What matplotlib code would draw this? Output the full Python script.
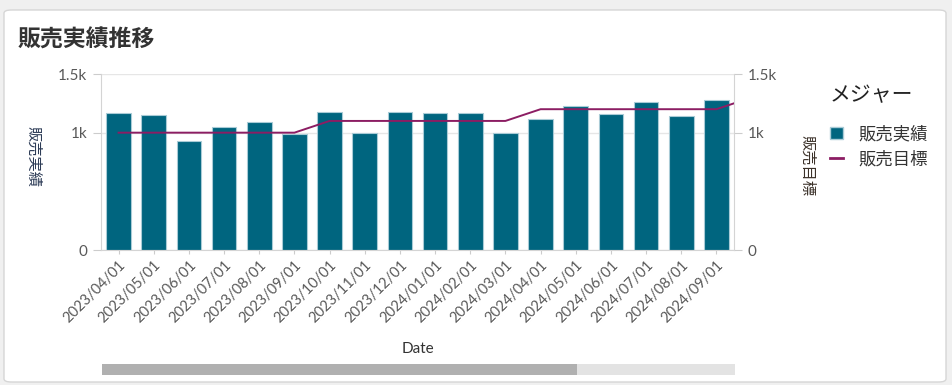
import numpy as np
import matplotlib.pyplot as plt
from matplotlib.patches import FancyBboxPatch, Rectangle, Patch
from matplotlib.lines import Line2D

plt.rcParams['font.family'] = ['Lato', 'Noto Sans CJK JP', 'DejaVu Sans']

# Chart data
dates = ['2023/04/01', '2023/05/01', '2023/06/01', '2023/07/01', '2023/08/01',
         '2023/09/01', '2023/10/01', '2023/11/01', '2023/12/01', '2024/01/01',
         '2024/02/01', '2024/03/01', '2024/04/01', '2024/05/01', '2024/06/01',
         '2024/07/01', '2024/08/01', '2024/09/01']
actual = [1170, 1150, 930, 1050, 1090, 985, 1180, 1000, 1180, 1170,
          1170, 1000, 1120, 1230, 1160, 1260, 1140, 1280]
# target continues one month past the visible window (2024/10 -> clipped)
target = [1000, 1000, 1000, 1000, 1000, 1000, 1100, 1100, 1100, 1100,
          1100, 1100, 1200, 1200, 1200, 1200, 1200, 1200, 1300]
y_ticks = [0, 1000, 1500]
y_labels = ['0', '1k', '1.5k']

BAR_COLOR = '#00657f'
LINE_COLOR = '#8c1d63'
TICK_COLOR = '#595959'
W, H = 952, 385

fig = plt.figure(figsize=(W / 100, H / 100), dpi=100)
fig.patch.set_facecolor('#f0f0f0')

# white card
card = FancyBboxPatch((4 / W, 3 / H), 942 / W, 372 / H,
                      boxstyle='round,pad=0,rounding_size=0.008',
                      transform=fig.transFigure, facecolor='white',
                      edgecolor='#d6d6d6', linewidth=1, zorder=-2)
fig.patches.append(card)

fig.text(18 / W, 1 - 40 / H, '販売実績推移', fontsize=16.5, fontweight='bold',
         color='#333333', va='center', ha='left')

ax = fig.add_axes([101 / W, 1 - 250 / H, 633 / W, 176 / H])
ax.set_facecolor('none')
x = np.arange(len(dates))
ax.bar(x, actual, width=0.7, color=BAR_COLOR, edgecolor='#a9cbd6',
       linewidth=0.8, zorder=2)
ax.set_xlim(-0.5, len(dates) - 0.5)
ax.set_ylim(0, 1500)
ax.set_yticks(y_ticks)
ax.set_yticklabels(y_labels)
ax.set_xticks(x)
ax.set_xticklabels(dates, rotation=45, ha='right', rotation_mode='anchor')
ax.grid(axis='y', color='#e6e6e6', linewidth=1, zorder=0)
ax.set_axisbelow(True)
ax.tick_params(axis='y', colors='#cccccc', labelcolor=TICK_COLOR,
               labelsize=11, length=6, pad=4)
ax.tick_params(axis='x', colors='#cccccc', labelcolor=TICK_COLOR,
               labelsize=10.5, length=3, pad=3)
for s in ['top', 'right']:
    ax.spines[s].set_visible(False)
ax.spines['left'].set_color('#d4d4d4')
ax.spines['bottom'].set_color('#d4d4d4')
ax.set_ylabel('販売実績', rotation=270, fontsize=11, color='#2b3a55',
              va='center')
ax.yaxis.set_label_coords(-0.108, 0.53)
ax.set_xlabel('Date', fontsize=11, color='#333333')
ax.xaxis.set_label_coords(0.5, -0.52)

ax2 = ax.twinx()
ax2.plot(np.arange(len(target)), target, color=LINE_COLOR, linewidth=1.4,
         zorder=3)
ax2.set_xlim(-0.5, len(dates) - 0.5)
ax2.set_ylim(0, 1500)
ax2.set_yticks(y_ticks)
ax2.set_yticklabels(y_labels)
ax2.tick_params(axis='y', colors='#cccccc', labelcolor=TICK_COLOR,
                labelsize=11, length=6, pad=4)
for s in ['top', 'left', 'bottom']:
    ax2.spines[s].set_visible(False)
ax2.spines['right'].set_color('#d4d4d4')
ax2.set_ylabel('販売目標', rotation=270, fontsize=11, color='#3a3028',
               va='center')
ax2.yaxis.set_label_coords(1.115, 0.48)

# legend: title as separate text, entries as a legend
fig.text(830 / W, 1 - 95 / H, 'メジャー', fontsize=15, color='#222222',
         ha='left', va='center')
handles = [Patch(facecolor=BAR_COLOR, edgecolor='#a9cbd6', label='販売実績'),
           Line2D([], [], color=LINE_COLOR, linewidth=2, label='販売目標')]
leg = fig.legend(handles=handles, loc='upper left',
                 bbox_to_anchor=(814 / W, 1 - 110 / H), frameon=False,
                 fontsize=12.5, handlelength=0.75, handleheight=0.75,
                 handletextpad=0.9, labelspacing=0.5)
for t in leg.get_texts():
    t.set_color('#333333')

# scrollbar under the chart
fig.patches.append(Rectangle((102 / W, 1 - 375 / H), 475 / W, 11 / H,
                             transform=fig.transFigure, facecolor='#b0b0b0',
                             edgecolor='none', zorder=-1))
fig.patches.append(Rectangle((577 / W, 1 - 375 / H), 158 / W, 11 / H,
                             transform=fig.transFigure, facecolor='#e3e3e3',
                             edgecolor='none', zorder=-1))

fig.savefig('out.png', dpi=100, facecolor=fig.get_facecolor())
